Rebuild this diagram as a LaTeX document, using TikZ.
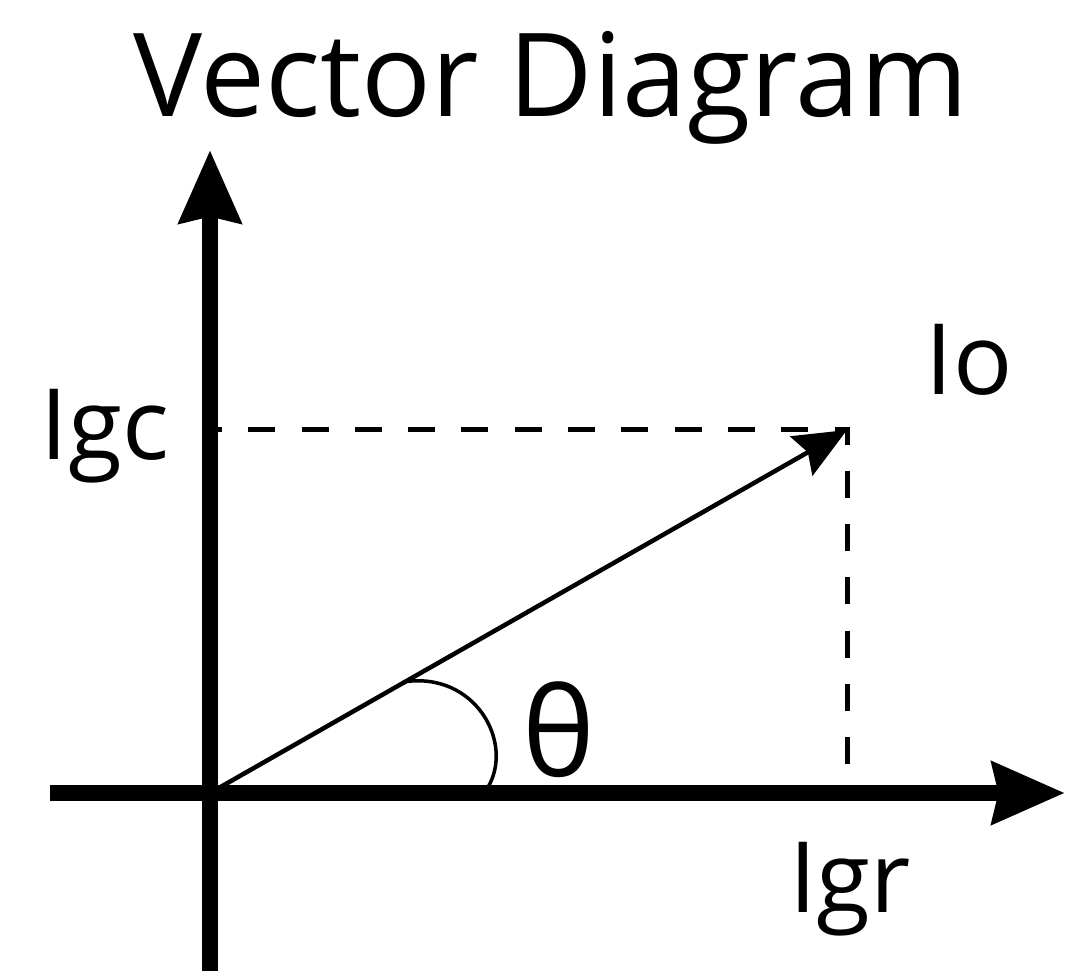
\documentclass[tikz,border=0pt]{standalone}
\usepackage{fontspec}
\setmainfont{Open Sans}
\usepackage{tikz}
\usetikzlibrary{arrows.meta, positioning}

\begin{document}
\begin{tikzpicture}[
      axis/.style={line width=0.31cm, -{Stealth[length=1.45cm, width=1.22cm, inset=0.12cm]}},
      phasor/.style={line width=0.09cm, -{Stealth[length=1.05cm, width=0.9cm, inset=0.15cm]}},
      guide/.style={line width=0.1cm, dash pattern=on 0.54cm off 0.526cm, dash phase=0.3cm},
      anglearc/.style={line width=0.07cm},
      lbl/.style={inner sep=0pt, anchor=base, font=\fontsize{56}{60}\selectfont},
    ]

    \useasboundingbox (-4.2,-3.56) rectangle (17.12,15.86);

    \coordinate (O)    at (0,0);
    \coordinate (xlow) at (-3.2,0);
    \coordinate (xtip) at (17.1,0);
    \coordinate (ylow) at (0,-3.6);
    \coordinate (ytip) at (0,12.86);
    \coordinate (Io)   at (12.74,7.26);
    \coordinate (Iy)   at (0,7.26);
    \coordinate (Ix)   at (12.74,0.16);

    \node[lbl, font=\fontsize{66}{70}\selectfont] (title) at (6.82,13.52) {Vector Diagram};
    \node[lbl] (igc)   at (-2.1,6.66) {Igc};
    \node[lbl] (io)    at (15.18,7.96) {Io};
    \node[lbl] (igr)   at (12.8,-2.38) {Igr};
    \node[inner sep=0pt, font=\fontsize{70}{74}\selectfont] (theta) at (6.98,1.26) {θ};

    % projections (under the axes)
    \draw[guide] (Iy) -- (Io) -- (Ix);

    % axes
    \draw[axis] (xlow) -- (xtip);
    \draw[axis] (ylow) -- (ytip);

    % phasor and angle
    \draw[phasor] (O) -- (Io);
    \draw[anglearc] (3.86,2.22) .. controls (5.3,2.45) and (6.1,1.0) .. (5.55,0.1);

  \end{tikzpicture}
\end{document}
